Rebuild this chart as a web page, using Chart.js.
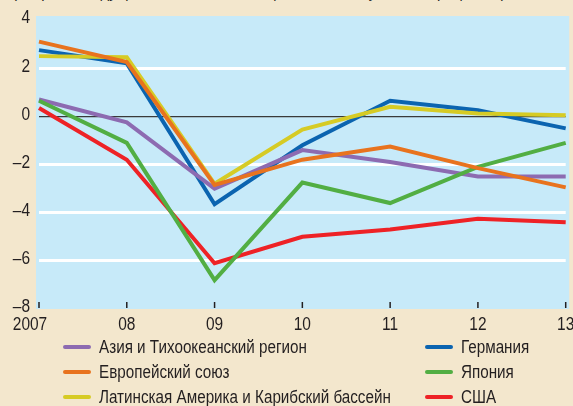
<!DOCTYPE html>
<html>
<head>
<meta charset="utf-8">
<script src="https://cdn.jsdelivr.net/npm/chart.js@4.4.0/dist/chart.umd.min.js"></script>
<style>
  html, body { margin: 0; padding: 0; background: #F3E7CD; }
  #wrap { position: relative; width: 573px; height: 406px; overflow: hidden;
          font-family: 'Liberation Sans', Arial, sans-serif; color: #231F20; }
  #title { position: absolute; left: 12px; top: -19px; font-size: 17.5px; line-height: 20px; white-space: nowrap;
           transform: scaleX(0.85); transform-origin: left top; }
  #c { position: absolute; left: 0; top: 0; }
  .li { position: absolute; height: 20px; white-space: nowrap; }
  .li i { position: absolute; left: 0; top: 8px; width: 28px; height: 4px; border-radius: 2px; }
  .li b { position: absolute; left: 36px; top: 0; font-weight: normal; font-size: 17.5px; line-height: 20px;
          transform: scaleX(0.87); transform-origin: left center; }
</style>
</head>
<body>
<div id="wrap">
  <div id="title">(Разрыв между фактическим и потенциальным выпуском, в процентах)</div>
  <canvas id="c" width="573" height="406"></canvas>
  <div id="legend"></div>
</div>
<script>
const years = ['2007', '08', '09', '10', '11', '12', '13'];

const asia    = [0.7, -0.25, -3.0, -1.4, -1.9, -2.5, -2.5];
const eu      = [3.1, 2.25, -2.85, -1.8, -1.25, -2.15, -2.95];
const latam   = [2.5, 2.45, -2.8, -0.55, 0.4, 0.12, 0.05];
const germany = [2.75, 2.2, -3.65, -1.2, 0.65, 0.25, -0.5];
const japan   = [0.65, -1.1, -6.8, -2.75, -3.6, -2.1, -1.1];
const usa     = [0.35, -1.8, -6.1, -5.0, -4.7, -4.25, -4.4];

const series = [
  { label: 'Азия и Тихоокеанский регион', data: asia, color: '#8D6BB1', order: 4, col: 0, row: 0 },
  { label: 'Европейский союз', data: eu, color: '#E8731E', order: 1, col: 0, row: 1 },
  { label: 'Латинская Америка и Карибский бассейн', data: latam, color: '#D6CB25', order: 2, col: 0, row: 2 },
  { label: 'Германия', data: germany, color: '#0B64B0', order: 6, col: 1, row: 0 },
  { label: 'Япония', data: japan, color: '#52AE43', order: 3, col: 1, row: 1 },
  { label: 'США', data: usa, color: '#EE2226', order: 5, col: 1, row: 2 },
];

const FONT = "'Liberation Sans', Arial, sans-serif";
const SQUEEZE = 0.86;

// condensed-looking text on the canvas
function narrowText(ctx, txt, x, y, align) {
  ctx.save();
  ctx.translate(x, y);
  ctx.scale(SQUEEZE, 1);
  ctx.textAlign = align;
  ctx.fillText(txt, 0, 0);
  ctx.restore();
}

// light blue plot panel, inner tick marks, axis labels
const decor = {
  id: 'decor',
  beforeDraw(chart) {
    const { ctx, chartArea: a } = chart;
    ctx.save();
    ctx.fillStyle = '#C7EAF9';
    ctx.fillRect(a.left - 3, a.top - 4, a.right - a.left + 6.5, a.bottom - a.top + 4);
    ctx.restore();
  },
  afterDraw(chart) {
    const { ctx, chartArea: a } = chart;
    const x = chart.scales.x, y = chart.scales.y;
    ctx.save();
    ctx.strokeStyle = '#231F20';
    ctx.fillStyle = '#231F20';
    ctx.lineWidth = 1.5;
    ctx.font = '18px ' + FONT;
    ctx.textBaseline = 'middle';
    years.forEach((lab, i) => {
      const px = x.getPixelForValue(i);
      ctx.beginPath();
      ctx.moveTo(px, a.bottom - 7);
      ctx.lineTo(px, a.bottom - 1);
      ctx.stroke();
      narrowText(ctx, lab, i === 0 ? px - 9 : px, a.bottom + 16, 'center');
    });
    y.ticks.forEach(t => {
      narrowText(ctx, String(t.value).replace('-', '–'), 30, y.getPixelForValue(t.value) - 1.5, 'right');
    });
    ctx.restore();
  }
};

new Chart(document.getElementById('c'), {
  type: 'line',
  data: {
    labels: years,
    datasets: series.map(s => ({
      label: s.label, data: s.data, borderColor: s.color, backgroundColor: s.color,
      borderWidth: 4, pointRadius: 0, tension: 0, order: s.order,
      borderJoinStyle: 'miter', borderCapStyle: 'butt'
    }))
  },
  options: {
    responsive: false,
    animation: false,
    layout: { padding: { top: 20, right: 7.3, bottom: 97, left: 0 } },
    plugins: { legend: { display: false }, tooltip: { enabled: false } },
    scales: {
      x: { display: false },
      y: {
        min: -8, max: 4,
        afterFit: s => { s.width = 39; },
        border: { display: false },
        grid: {
          drawTicks: false,
          color: c => c.tick.value === 0 ? '#3A3A3A' : (c.tick.value === 4 || c.tick.value === -8 ? 'rgba(0,0,0,0)' : '#FFFFFF'),
          lineWidth: c => c.tick.value === 0 ? 1.3 : 3
        },
        ticks: { stepSize: 2, display: false }
      }
    }
  },
  plugins: [decor]
});

const leg = document.getElementById('legend');
const colX = [63, 425], rowY = [347, 372, 397];
series.forEach(s => {
  const d = document.createElement('div');
  d.className = 'li';
  d.style.left = colX[s.col] + 'px';
  d.style.top = (rowY[s.row] - 10) + 'px';
  d.innerHTML = `<i style="background:${s.color}"></i><b>${s.label}</b>`;
  leg.appendChild(d);
});
</script>
</body>
</html>
